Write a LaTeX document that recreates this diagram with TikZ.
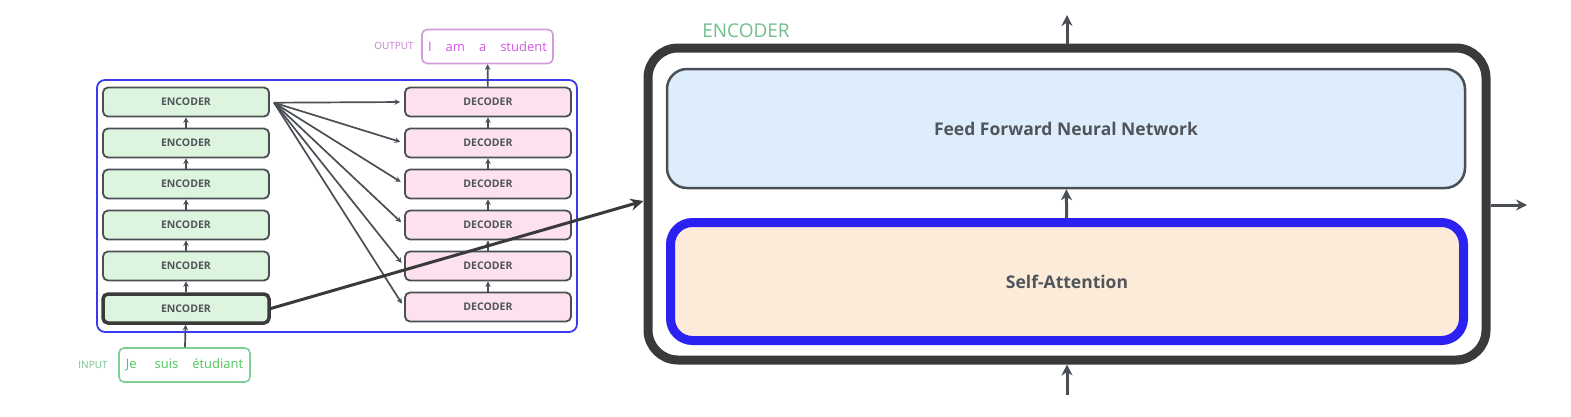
\documentclass[tikz,border=0pt]{standalone}
\usepackage{fontspec}
\setmainfont{Open Sans}
\usetikzlibrary{arrows.meta,positioning}

\definecolor{edge}{HTML}{4A4F55}
\definecolor{txt}{HTML}{50555B}
\definecolor{encfill}{HTML}{DDF5DF}
\definecolor{decfill}{HTML}{FDE1EE}
\definecolor{stackblue}{HTML}{3A3AEE}
\definecolor{ffnfill}{HTML}{DDEDFB}
\definecolor{attfill}{HTML}{FDEBDA}
\definecolor{attblue}{HTML}{2B22F2}
\definecolor{bigedge}{HTML}{3A3A3A}
\definecolor{ingreen}{HTML}{4CC65C}
\definecolor{inedge}{HTML}{7CCF95}
\definecolor{lblgreen}{HTML}{72BE8C}
\definecolor{outpink}{HTML}{D25ADF}
\definecolor{outedge}{HTML}{D49ADB}
\definecolor{lblpink}{HTML}{C47ED3}

\begin{document}
\begin{tikzpicture}[
    x=1pt,y=-1pt,
    >={Stealth[length=5.5pt,width=5.5pt]},
    enc/.style={
        draw=edge, line width=1.8pt,
        rectangle, rounded corners=5pt,
        fill=encfill,
        minimum width=166pt,
        minimum height=29pt,
        font=\fontsize{10.5}{12}\selectfont\bfseries,
        text=txt
    },
    dec/.style={
        enc,
        fill=decfill
    },
    wordbox/.style={
        draw, line width=1.6pt,
        rectangle, rounded corners=5pt,
        fill=white,
        minimum width=131pt,
        minimum height=34pt,
        font=\fontsize{13}{15}\selectfont
    },
    tag/.style={
        font=\fontsize{10}{12}\selectfont
    },
    layer/.style={
        draw=edge, line width=2.5pt,
        rectangle, rounded corners=20pt,
        minimum width=798pt,
        minimum height=119pt,
        font=\fontsize{17.5}{20}\selectfont\bfseries,
        text=txt
    },
    flow/.style={
        draw=edge, line width=1.7pt, ->
    },
    bigflow/.style={
        draw=edge, line width=3pt,
        -{Stealth[length=11pt,width=11pt]}
    }
]

\useasboundingbox (0,0) rectangle (1571,416);

% ====== 左側:編碼器 / 解碼器堆疊 ======
\node[draw=stackblue, line width=1.8pt, rounded corners=8pt,
      minimum width=480pt, minimum height=252pt] (stack) at (337,206) {};

\node[enc] (enc1) at (186,102) {ENCODER};
\node[enc] (enc2) at (186,143) {ENCODER};
\node[enc] (enc3) at (186,184) {ENCODER};
\node[enc] (enc4) at (186,225) {ENCODER};
\node[enc] (enc5) at (186,266) {ENCODER};
\node[enc, draw=bigedge, line width=3.5pt] (enc6) at (186,308.5) {ENCODER};

\node[dec] (dec1) at (488,102) {DECODER};
\node[dec] (dec2) at (488,143) {DECODER};
\node[dec] (dec3) at (488,184) {DECODER};
\node[dec] (dec4) at (488,225) {DECODER};
\node[dec] (dec5) at (488,266) {DECODER};
\node[dec] (dec6) at (488,307) {DECODER};

% 層與層之間
\draw[flow] (enc6) -- (enc5);
\draw[flow] (enc5) -- (enc4);
\draw[flow] (enc4) -- (enc3);
\draw[flow] (enc3) -- (enc2);
\draw[flow] (enc2) -- (enc1);

\draw[flow] (dec6) -- (dec5);
\draw[flow] (dec5) -- (dec4);
\draw[flow] (dec4) -- (dec3);
\draw[flow] (dec3) -- (dec2);
\draw[flow] (dec2) -- (dec1);

% 最上層編碼器 → 每個解碼器
\coordinate (fan) at (274,102.7);
\draw[flow, shorten >=4pt] (fan) -- (dec1.west);
\draw[flow, shorten >=4pt] (fan) -- (dec2.west);
\draw[flow, shorten >=4pt] (fan) -- (dec3.west);
\draw[flow, shorten >=4pt] (fan) -- (dec4.west);
\draw[flow, shorten >=4pt] (fan) -- (dec5.west);
\draw[flow, shorten >=4pt] (fan) -- (dec6.west);

% ====== 輸入與輸出 ======
\node[wordbox, draw=outedge, text=outpink] (out) at (487.5,46.5)
    {I\hspace{14pt}am\hspace{14pt}a\hspace{14pt}student};
\node[tag, text=lblpink] (outlbl) at (394,46) {OUTPUT};

\node[wordbox, draw=inedge, text=ingreen] (in) at (184.5,365)
    {Je\hspace{18pt}suis\hspace{14pt}étudiant};
\node[tag, text=lblgreen] (inlbl) at (93,365) {INPUT};

\draw[flow] (dec1) -- (out);
\draw[flow] (in) -- (enc6);

% ====== 右側:單一編碼器放大 ======
\node[draw=bigedge, line width=9pt, rounded corners=30pt,
      minimum width=838pt, minimum height=312pt] (big) at (1067,204) {};
\node[font=\fontsize{19}{22}\selectfont, text=lblgreen] (biglbl) at (746,31) {ENCODER};

\node[layer, fill=ffnfill] (ffn) at (1066,128.5) {Feed Forward Neural Network};
\node[layer, draw=attblue, line width=9pt, rounded corners=22pt, fill=attfill,
      minimum width=793pt, minimum height=118pt] (att) at (1067,281.5) {Self-Attention};

\coordinate (bigin)  at (1067,395);
\coordinate (bigout) at (1067,15);
\coordinate (bigright) at (1527,205);

\draw[bigflow] (bigin) -- (big.south);
\draw[bigflow] (att) -- (ffn);
\draw[bigflow] (big.north) -- (bigout);
\draw[bigflow] (big.east |- bigright) -- (bigright);

% 放大箭頭
\draw[bigflow, bigedge, -{Stealth[length=13pt,width=12pt]}] (enc6.east) -- (big.west |- 0,201);

\end{tikzpicture}
\end{document}
